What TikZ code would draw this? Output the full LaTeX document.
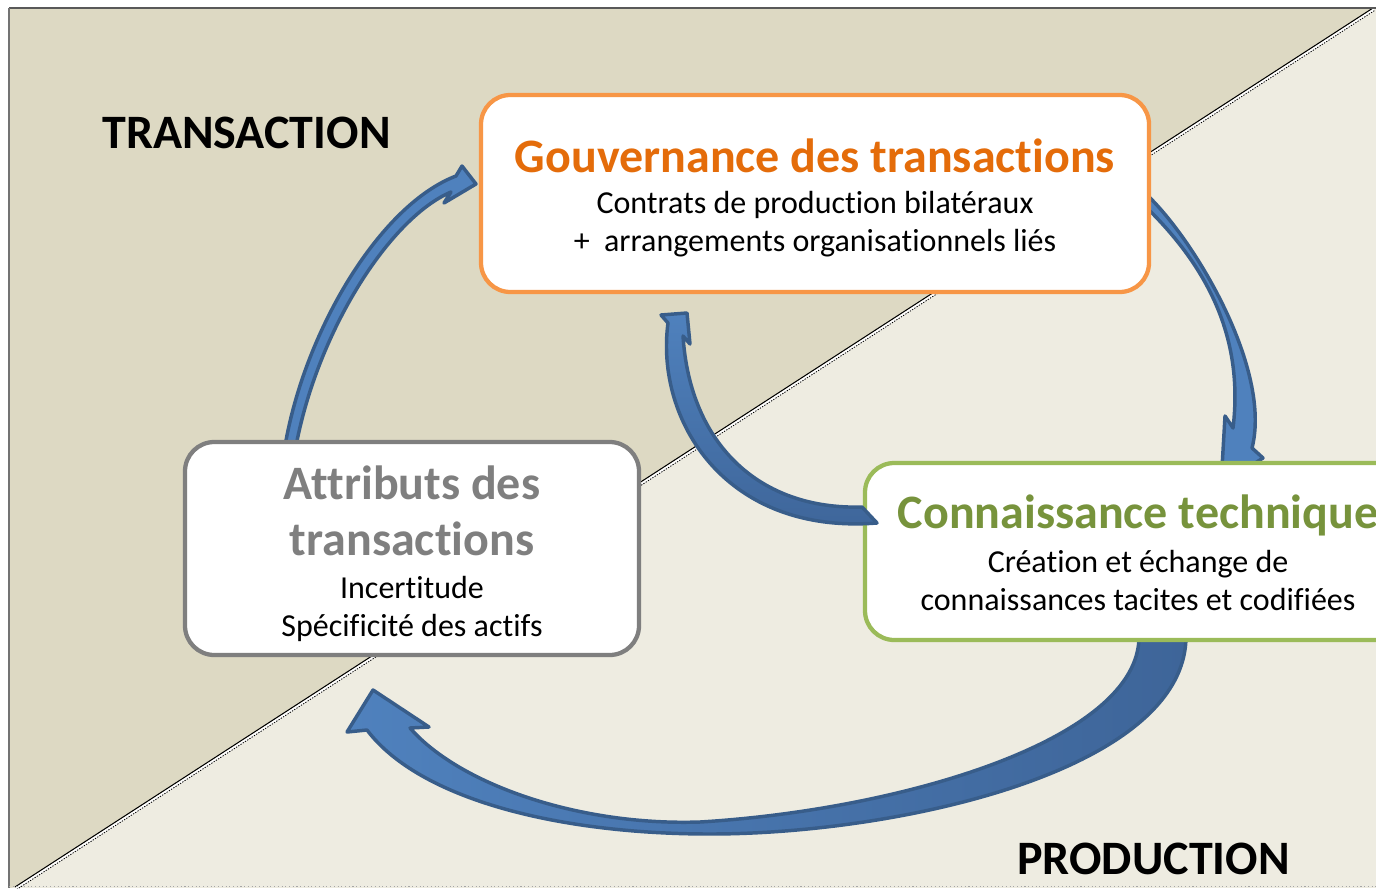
\documentclass[tikz,border=0pt]{standalone}
\usepackage{fontspec}
\setmainfont{Carlito}[Ligatures=NoCommon]
\definecolor{bgdark}{HTML}{DDD9C3}
\definecolor{bglight}{HTML}{EEECE1}
\definecolor{arrfill}{HTML}{4F81BD}
\definecolor{arrdark}{HTML}{3E6599}
\definecolor{arrline}{HTML}{385D8A}
\definecolor{orangeline}{HTML}{F79646}
\definecolor{orangetext}{HTML}{E46C0A}
\definecolor{greenline}{HTML}{9BBB59}
\definecolor{greentext}{HTML}{77933C}
\definecolor{grayline}{HTML}{7F7F7F}
\begin{document}
\begin{tikzpicture}[x=0.75pt,y=-0.75pt,
  box/.style={rectangle, rounded corners=22pt, fill=white, line width=3.2pt, inner sep=0pt, outer sep=0pt},
  bigtitle/.style={font=\fontsize{36}{40}\selectfont\bfseries, anchor=base, inner sep=0pt},
  bodytext/.style={font=\fontsize{24}{28}\selectfont, anchor=base, inner sep=0pt, text=black},
  blockarrow/.style={draw=arrline, line width=2.6pt, line join=round}]
\useasboundingbox (0,0) rectangle (1376,888);
\clip (0,0) rectangle (1376,888);
% background
\fill[white] (0,0) rectangle (1376,888);
\fill[bglight] (9,8) rectangle (1376,888);
\fill[bgdark] (9,8) -- (1373,8) -- (15,887) -- (9,888) -- cycle;
% diagonal
\draw[black, line width=0.8pt] (15,887) -- (1373,8);
\draw[white, line width=1.6pt] (16.1,888.7) -- (1374.1,9.7);
\draw[black, line width=0.6pt, dash pattern=on 1pt off 1pt] (16.6,889.5) -- (1374.6,10.5);
% frame
\draw[black!65, line width=1pt] (9,8) -- (1376,8);
\draw[black!55, line width=1.5pt] (9,8) -- (9,888);
\draw[black!35, dotted, line width=0.8pt] (9,886.5) -- (1376,886.5);
% arrows under the boxes
\path[blockarrow, fill=arrfill] (456,176) .. controls (380,205) and (305,330) .. (285,446)
  -- (296,446) .. controls (318,330) and (390,218) .. (451,192)
  -- (444,203) -- (476,184) -- (462,166) -- cycle;
\path[blockarrow, fill=arrfill] (1252,448) .. controls (1272,370) and (1195,240) .. (1146,194)
  -- (1146,207) .. controls (1200,260) and (1245,330) .. (1233,428)
  -- (1225,416) -- (1221,485) -- (1263,458) -- cycle;
\path[blockarrow, left color=arrfill, right color=arrdark] (367,730) .. controls (420,800) and (560,834) .. (710,834)
  .. controls (900,834) and (1186,770) .. (1186,636)
  -- (1139,636) .. controls (1140,740) and (900,810) .. (700,822)
  .. controls (580,826) and (460,785) .. (410,728)
  -- (429,727) -- (373,690) -- (347,732) -- cycle;
% boxes
\node[box, draw=orangeline, minimum width=501pt, minimum height=147.75pt] (gov) at (815,193.5) {};
\node[box, draw=grayline, minimum width=340.5pt, minimum height=159.75pt] (attr) at (412,548.5) {};
\node[box, draw=greenline, minimum width=409.5pt, minimum height=132.75pt] (conn) at (1138,551.5) {};
% arrow over the green box
\path[blockarrow, top color=arrfill, bottom color=arrdark] (668,323) .. controls (655,420) and (725,535) .. (877,523)
  -- (862,507) .. controls (760,510) and (690,445) .. (683,336)
  -- (690,344) -- (687,313) -- (661,315) -- cycle;
% texts
\node[bigtitle, anchor=base west, text=black] (transaction) at (102,148) {TRANSACTION};
\node[bigtitle, anchor=base west, text=black] (production) at (1017,874) {PRODUCTION};
\node[bigtitle, text=orangetext] (govT) at (815,172) {Gouvernance des transactions};
\node[bodytext] (govA) at (815,213) {Contrats de production bilatéraux};
\node[bodytext] (govB) at (815,251) {+\ \ arrangements organisationnels liés};
\node[bigtitle, text=grayline] (attrT1) at (412,499) {Attributs des};
\node[bigtitle, text=grayline] (attrT2) at (412,555) {transactions};
\node[bodytext] (attrA) at (412,598) {Incertitude};
\node[bodytext] (attrB) at (412,636) {Spécificité des actifs};
\node[bigtitle, text=greentext] (connT) at (1138,528) {Connaissance technique};
\node[bodytext] (connA) at (1138,572) {Création et échange de};
\node[bodytext] (connB) at (1138,610) {connaissances tacites et codifiées};
\end{tikzpicture}
\end{document}
